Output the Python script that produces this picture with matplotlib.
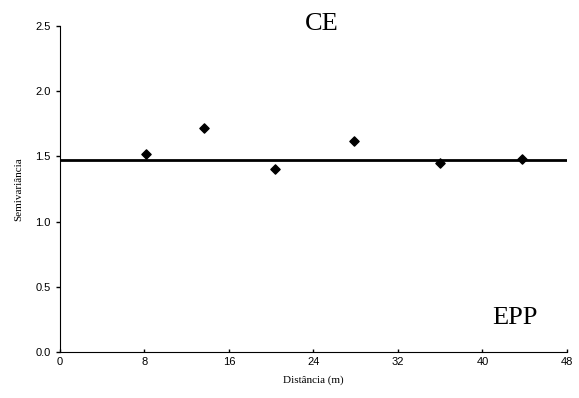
import matplotlib
matplotlib.use("Agg")
import matplotlib.pyplot as plt

# distance (m) and semivariance
dist = [8.1, 13.6, 20.4, 27.8, 36.0, 43.7]
semivar = [1.52, 1.72, 1.40, 1.62, 1.45, 1.48]
sill = 1.47
xticks = [0, 8, 16, 24, 32, 40, 48]
yticks = [0.0, 0.5, 1.0, 1.5, 2.0, 2.5]

fig = plt.figure(figsize=(5.79, 3.98), dpi=100)
ax = fig.add_axes([0.1036, 0.1156, 0.8756, 0.8194])

ax.plot([0, 48], [sill, sill], color="black", lw=2)
ax.scatter(dist, semivar, marker="D", s=22, color="black", zorder=3)

ax.set_xlim(0, 48)
ax.set_ylim(0, 2.5)
ax.set_xticks(xticks)
ax.set_yticks(yticks)
ax.set_yticklabels(["%.1f" % v for v in yticks])
for lab in ax.get_xticklabels() + ax.get_yticklabels():
    lab.set_fontfamily("Liberation Sans")
    lab.set_fontsize(8)
ax.tick_params(axis="x", direction="in", length=2, width=1)
ax.tick_params(axis="y", direction="out", length=3, width=1)
ax.spines["top"].set_visible(False)
ax.spines["right"].set_visible(False)

ax.set_xlabel("Distância (m)", family="Liberation Serif", fontsize=8, labelpad=6)
ax.set_ylabel("Semivariância", family="Liberation Serif", fontsize=8, labelpad=9)

fig.text(0.556, 0.94, "CE", family="Liberation Serif", fontsize=19, ha="center", va="center")
fig.text(0.89, 0.20, "EPP", family="Liberation Serif", fontsize=19, ha="center", va="center")

fig.savefig("out.png", dpi=100)
